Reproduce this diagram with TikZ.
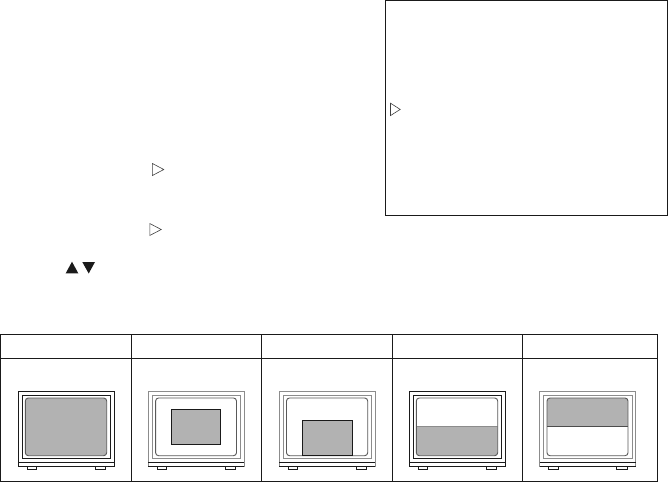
\documentclass[tikz,border=0pt]{standalone}
\definecolor{scr}{HTML}{B2B2B2}
\definecolor{fr}{HTML}{8C8C8C}
\definecolor{ink}{HTML}{1A1A1A}
\tikzset{
  rule/.style={draw=ink,line width=1pt},
  hollow/.style={draw=black!75,line width=.6pt,line join=miter,fill=white},
  solidtri/.style={fill=ink,draw=none},
  screenline/.style={draw=black!65,line width=.9pt,rounded corners=3pt},
}
% #1 x offset, #2 frame colour
\newcommand{\tvset}[2]{%
  \begin{scope}[shift={(#1,0)}]
    \draw[draw=#2,line width=1pt] (18.3,391.3) rectangle (114.3,466.7);
    \draw[draw=#2,line width=1pt] (22.3,395.3) rectangle (110.7,458.7);
    \draw[draw=ink,line width=1pt] (18.3,462.3) -- (114.3,462.3);
    \draw[draw=ink,line width=1pt] (18.3,466.7) -- (114.3,466.7);
    \draw[draw=ink,line width=.8pt] (27.3,466.7) -- (27.3,469.7) -- (36.7,469.7) -- (36.7,466.7);
    \draw[draw=ink,line width=.8pt] (95.3,466.7) -- (95.3,469.7) -- (105.7,469.7) -- (105.7,466.7);
  \end{scope}}
\begin{document}
\begin{tikzpicture}[x=1pt,y=-1pt]
\useasboundingbox (0,0) rectangle (668,482);
% monitor box
\draw[rule,line width=.9pt] (385,0.7) rectangle (667.3,215);
% triangles
\draw[hollow] (152.4,163.5) -- (163.8,169.5) -- (152.4,175.5) -- cycle;
\draw[hollow] (149.8,223.5) -- (161.2,229.5) -- (149.8,235.5) -- cycle;
\draw[hollow] (390.5,103.2) -- (400.2,109.4) -- (390.5,115.6) -- cycle;
\fill[solidtri] (65.7,273.3) -- (72,261.7) -- (78.3,273.3) -- cycle;
\fill[solidtri] (82.3,262) -- (95,262) -- (88.7,273.5) -- cycle;
% table
\draw[rule] (0.7,334.7) rectangle (657,481);
\draw[rule] (0.7,358) -- (657,358);
\foreach \xx in {131.3,261.5,392.3,522.3}{
  \draw[rule] (\xx,334.7) -- (\xx,481);
}
% TV 1
\tvset{0}{ink}
\draw[screenline,fill=scr] (25.3,398) rectangle (106.7,455.7);
% TV 2
\tvset{130}{fr}
\draw[screenline,fill=white] (155.6,398) rectangle (236.5,455.7);
\draw[rule,fill=scr,line width=.9pt] (171.3,409.3) rectangle (220.7,444.7);
% TV 3
\tvset{261}{fr}
\draw[screenline,fill=white] (286.5,398) rectangle (367.7,455.7);
\draw[rule,fill=scr,line width=.9pt] (302.3,420.3) rectangle (352.7,455.7);
% TV 4
\tvset{391}{ink}
\begin{scope}
  \clip[rounded corners=3pt] (416.3,398) rectangle (497.7,455.7);
  \fill[scr] (416.3,426.7) rectangle (497.7,455.7);
  \draw[draw=fr,line width=1pt] (416.3,426.7) -- (497.7,426.7);
\end{scope}
\draw[screenline] (416.3,398) rectangle (497.7,455.7);
% TV 5
\tvset{521.4}{fr}
\begin{scope}
  \clip[rounded corners=3pt] (547,398) rectangle (628,455.7);
  \fill[scr] (547,398) rectangle (628,426.7);
  \draw[draw=black!70,line width=.8pt] (547,426.7) -- (628,426.7);
\end{scope}
\draw[screenline] (547,398) rectangle (628,455.7);
\end{tikzpicture}
\end{document}
